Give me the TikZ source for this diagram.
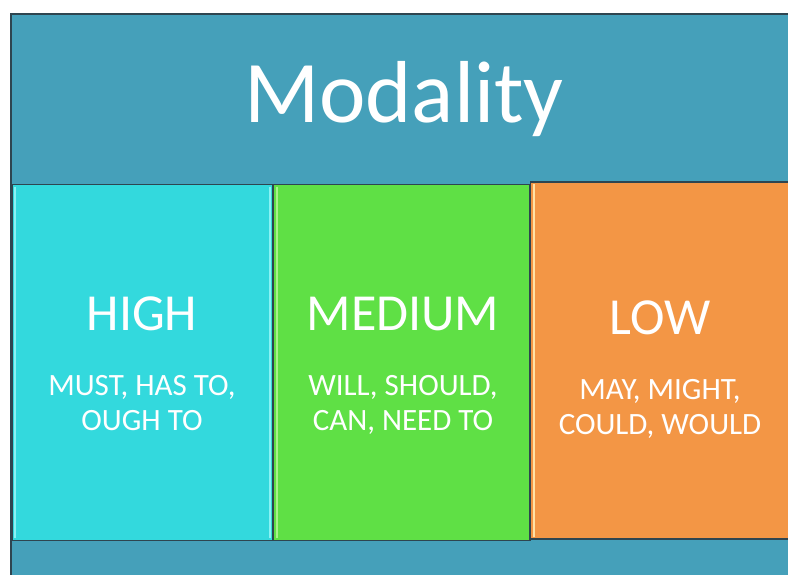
\documentclass[tikz,border=0pt]{standalone}
\usepackage{fontspec}
\setmainfont{Carlito}
\definecolor{bandblue}{HTML}{45A0BA}
\definecolor{edgedark}{HTML}{2E4550}
\definecolor{cyanbox}{HTML}{33D9DD}
\definecolor{greenbox}{HTML}{5FE045}
\definecolor{orangebox}{HTML}{F39645}
\definecolor{cyanhi}{HTML}{8AF2F4}
\definecolor{greenhi}{HTML}{A9F08C}
\definecolor{orangehi}{HTML}{FFE2A6}
\begin{document}
\begin{tikzpicture}[x=1pt,y=-1pt,
  panel/.style={draw=edgedark, line width=1.5pt, anchor=north west, inner sep=0pt, rectangle},
  headtext/.style={text=white, font=\fontsize{52}{56}\selectfont, inner sep=0pt, anchor=base},
  wordtext/.style={text=white, font=\fontsize{31}{35}\selectfont, align=center, inner sep=0pt, anchor=base},
  hiline/.style={line width=2pt}]
\useasboundingbox (0,0) rectangle (788,574);
\fill[white] (0,0) rectangle (788,574);
% outer band
\node[panel, fill=bandblue, minimum width=800pt, minimum height=580pt] (band) at (10,13) {};
\node[text=white, font=\fontsize{88}{96}\selectfont, inner sep=0pt, anchor=base] (title) at (404,122) {Modality};
% boxes
\node[panel, fill=cyanbox, minimum width=261pt, minimum height=356pt] (high) at (11,183.5) {};
\node[panel, fill=greenbox, minimum width=257pt, minimum height=356pt] (medium) at (272,183.5) {};
\node[panel, fill=orangebox, minimum width=270pt, minimum height=357pt] (low) at (529.5,181) {};
% highlights
\draw[hiline, cyanhi] ([shift={(4,3)}]high.north west) -- ([shift={(4,-3)}]high.south west);
\draw[hiline, cyanhi] ([shift={(-4,3)}]high.north east) -- ([shift={(-4,-3)}]high.south east);
\draw[hiline, greenhi] ([shift={(5,3)}]medium.north west) -- ([shift={(5,-3)}]medium.south west);
\draw[hiline, orangehi] ([shift={(4,3)}]low.north west) -- ([shift={(4,-3)}]low.south west);
% texts
\node[headtext] (highh) at (142,330) {HIGH};
\node[wordtext] (highw) at (142,430) {MUST, HAS TO,\\OUGH TO};
\node[headtext] (medh) at (403,330) {MEDIUM};
\node[wordtext] (medw) at (403,430) {WILL, SHOULD,\\CAN, NEED TO};
\node[headtext] (lowh) at (660,334) {LOW};
\node[wordtext] (loww) at (660,434) {MAY, MIGHT,\\COULD, WOULD};
\end{tikzpicture}
\end{document}
